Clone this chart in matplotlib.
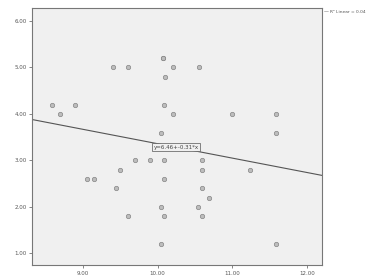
import matplotlib.pyplot as plt
import numpy as np

# values
x_vals = [9.40, 9.60, 10.07, 10.07, 10.20, 10.55, 10.10,
          8.59, 8.70, 8.90, 10.09, 10.20, 11.00, 11.59,
          10.04, 11.59,
          9.70, 9.90, 10.09, 10.59,
          9.50, 10.59, 11.24,
          9.05, 9.15, 10.09,
          9.45, 10.59, 10.69,
          10.04, 10.54,
          9.60, 10.09, 10.59,
          10.04, 11.59]
y_vals = [5.0, 5.0, 5.2, 5.2, 5.0, 5.0, 4.8,
          4.2, 4.0, 4.2, 4.2, 4.0, 4.0, 4.0,
          3.6, 3.6,
          3.0, 3.0, 3.0, 3.0,
          2.8, 2.8, 2.8,
          2.6, 2.6, 2.6,
          2.4, 2.4, 2.2,
          2.0, 2.0,
          1.8, 1.8, 1.8,
          1.2, 1.2]
intercept = 6.46
slope = -0.31
r2_text = "R² Linear = 0.04"
x_ticks = [9.0, 10.0, 11.0, 12.0]
y_ticks = [1.0, 2.0, 3.0, 4.0, 5.0, 6.0]

plt.rcParams['font.size'] = 4
fig = plt.figure(figsize=(3.7, 2.79), dpi=100)
ax = fig.add_axes([32 / 370, 14 / 279, 290 / 370, 257 / 279])
ax.set_facecolor('#f0f0f0')

ax.scatter(x_vals, y_vals, s=10, facecolor='#bdbdbd', edgecolor='#858585',
           linewidth=0.5, zorder=3)

xl = np.array([8.32, 12.2])
ax.plot(xl, intercept + slope * xl, color='#555555', lw=0.8, zorder=2)

xm = 10.25
ax.text(xm, intercept + slope * xm, f"y={intercept:.2f}+{slope:.2f}*x",
        ha='center', va='center', fontsize=4, color='#444444', zorder=4,
        bbox=dict(boxstyle='square,pad=0.3', fc='#f0f0f0', ec='#555555', lw=0.5))

ax.set_xlim(8.32, 12.2)
ax.set_ylim(0.75, 6.28)
ax.set_xticks(x_ticks)
ax.set_xticklabels([f"{v:.2f}" for v in x_ticks])
ax.set_yticks(y_ticks)
ax.set_yticklabels([f"{v:.2f}" for v in y_ticks])
ax.tick_params(length=2, width=0.5, colors='#555555', pad=2)
for s in ax.spines.values():
    s.set_color('#777777')
    s.set_linewidth(0.8)

fig.text(324 / 370, 1 - 12 / 279, "—", fontsize=3.5, color='#555555', va='center')
fig.text(330 / 370, 1 - 12 / 279, r2_text, fontsize=3.2, color='#555555', va='center')

fig.savefig('out.png', dpi=100)
